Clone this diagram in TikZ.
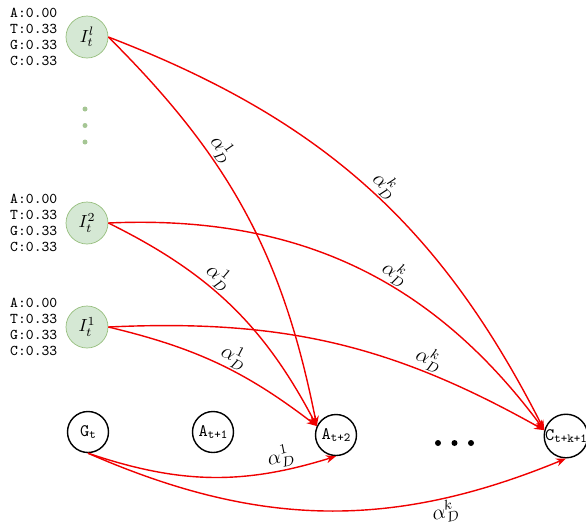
\documentclass[tikz,border=0pt]{standalone}
\usepackage{amsmath,amssymb}
\usepackage{xcolor}
\usepackage{tikz}
\usetikzlibrary{arrows.meta, positioning, calc}
\definecolor{nodegreen}{RGB}{213,232,212}
\definecolor{bordergreen}{RGB}{150,190,125}
\definecolor{dotgreen}{RGB}{165,198,148}
\definecolor{edgered}{RGB}{240,0,0}
\newcommand{\nsub}[1]{\raisebox{-0.2ex}{\scriptsize #1}}

\begin{document}
\begin{tikzpicture}[
    node distance=0.16cm,
    inode/.style={circle, draw=bordergreen, fill=nodegreen, line width=0.4pt, minimum size=0.84cm, inner sep=0pt},
    snode/.style={circle, draw=black, line width=0.8pt, minimum size=0.82cm, inner sep=0pt, font=\ttfamily},
    probs/.style={align=left, inner sep=0pt, font=\ttfamily\fontsize{8.5}{9.1}\selectfont},
    arrowstyle/.style={-{Stealth[length=2mm, width=1.6mm]}, line width=0.8pt, edgered},
    weight/.style={sloped, font=\large, text=black, inner sep=1pt}
]
\useasboundingbox (0,0) rectangle (11.72,-10.58);

% input nodes with their base distributions
\node[inode] (il) at (1.74,-0.74) {$I_t^l$};
\node[inode] (i2) at (1.74,-4.46) {$I_t^2$};
\node[inode] (i1) at (1.74,-6.54) {$I_t^1$};
\node[probs, left=of il] (pl) {A:0.00\\T:0.33\\G:0.33\\C:0.33};
\node[probs, left=of i2] (p2) {A:0.00\\T:0.33\\G:0.33\\C:0.33};
\node[probs, left=of i1] (p1) {A:0.00\\T:0.33\\G:0.33\\C:0.33};

% vertical dots
\foreach \y in {-2.18,-2.51,-2.84}
    \fill[dotgreen] (1.70,\y) circle (0.05);

% sequence nodes
\node[snode] (g) at (1.76,-8.64) {G\nsub{t}};
\node[snode] (a1) at (4.26,-8.64) {A\nsub{t+1}};
\node[snode] (a2) at (6.72,-8.70) {A\nsub{t+2}};
\node[snode] (c) at (11.32,-8.72) {C\nsub{t+k+1}};

% horizontal dots
\foreach \x in {8.76,9.09,9.42}
    \fill (\x,-8.86) circle (0.06);

% weighted edges
\draw[arrowstyle] (il.east) to[bend left=17] node[weight, above, pos=0.34] {$\alpha_D^1$} (a2.155);
\draw[arrowstyle] (il.east) to[bend left=21] node[weight, above, pos=0.52] {$\alpha_D^k$} (c.165);
\draw[arrowstyle] (i2.east) to[bend left=18] node[weight, above, pos=0.4] {$\alpha_D^1$} (a2.155);
\draw[arrowstyle] (i2.east) to[bend left=28] node[weight, above, pos=0.58] {$\alpha_D^k$} (c.165);
\draw[arrowstyle] (i1.east) to[bend left=12] node[weight, above, pos=0.55] {$\alpha_D^1$} (a2.155);
\draw[arrowstyle] (i1.east) to[bend left=16] node[weight, above, pos=0.72] {$\alpha_D^k$} (c.165);
\draw[arrowstyle] (g.south) to[bend right=18] node[weight, above, pos=0.8] {$\alpha_D^1$} (a2.south);
\draw[arrowstyle] (g.south) to[bend right=23] node[weight, below, pos=0.75] {$\alpha_D^k$} (c.south);

\end{tikzpicture}
\end{document}
